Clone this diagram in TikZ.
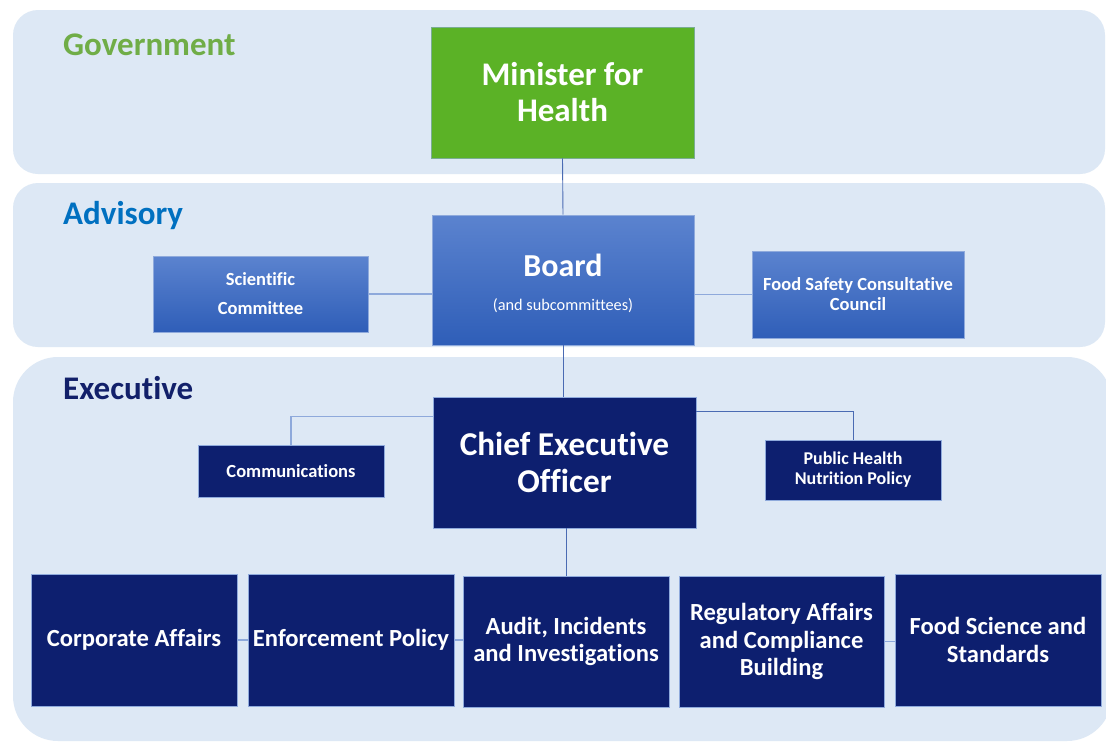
\documentclass[tikz,border=0pt]{standalone}
\usepackage{fontspec}
\setmainfont{Carlito}[Ligatures={NoCommon}]
\begin{document}
\begin{tikzpicture}[x=1pt,y=-1pt]
\definecolor{bandc}{HTML}{DDE8F5}
\definecolor{govgreen}{HTML}{70AD47}
\definecolor{advblue}{HTML}{0070C0}
\definecolor{exnavy}{HTML}{12206A}
\definecolor{mingreen}{HTML}{5BB226}
\definecolor{navy}{HTML}{0D1F6F}
\definecolor{gtop}{HTML}{5B83CF}
\definecolor{gbot}{HTML}{2F5EB8}
\definecolor{edgec}{HTML}{8FAADC}
\definecolor{linec}{HTML}{4A6BB3}
\definecolor{linel}{HTML}{8EA9DB}
\tikzset{
  band/.style={fill=bandc, draw=none},
  bandlabel/.style={anchor=west, inner sep=0pt, font=\bfseries\fontsize{33}{36}\selectfont},
  box/.style={rectangle, inner sep=0pt, align=center, text=white, font=\bfseries},
  gradbox/.style={box, top color=gtop, bottom color=gbot, draw=edgec, line width=0.8pt},
  navybox/.style={box, fill=navy, draw=edgec, line width=0.8pt},
  conn/.style={draw=linec, line width=0.9pt},
  connl/.style={draw=linel, line width=1.2pt},
}
\useasboundingbox (0,0) rectangle (1106,742);
\fill[white] (0,0) rectangle (1106,742);
% bands
\fill[band, rounded corners=25pt] (13,10) rectangle (1105,174);
\fill[band, rounded corners=25pt] (13,183) rectangle (1105,347);
\fill[band, rounded corners=45pt] (13,357) rectangle (1112,741);
\node[bandlabel, text=govgreen] (lgov) at (63,45) {Government};
\node[bandlabel, text=advblue] (ladv) at (63,216) {Advisory};
\node[bandlabel, text=exnavy] (lexe) at (63,388) {Executive};
% nodes
\node[box, fill=mingreen, draw=edgec!60!mingreen, line width=0.8pt, minimum width=263pt, minimum height=131pt,
  font=\bfseries\fontsize{33}{36}\selectfont] (min) at (562.5,92.5) {Minister for\\Health};
\node[gradbox, minimum width=262pt, minimum height=130pt] (board) at (563,280) {};
\node[box, font=\bfseries\fontsize{32}{36}\selectfont] (boardt) at (563,265) {Board};
\node[box, font=\fontsize{16.3}{18}\selectfont] (boards) at (563,306) {(and subcommittees)};
\node[gradbox, minimum width=215pt, minimum height=76pt, font=\bfseries\fontsize{18.5}{29}\selectfont] (sci) at (260.5,294) {Scientific\\Committee};
\node[gradbox, minimum width=212pt, minimum height=87pt, font=\bfseries\fontsize{18.5}{20}\selectfont] (fscc) at (858,294.5) {Food Safety Consultative\\Council};
\node[navybox, minimum width=263pt, minimum height=131pt, font=\bfseries\fontsize{33.3}{37}\selectfont] (ceo) at (564.5,462.5) {Chief Executive\\Officer};
\node[navybox, minimum width=186pt, minimum height=52pt, font=\bfseries\fontsize{18.5}{20}\selectfont] (comm) at (291,471) {Communications};
\node[navybox, minimum width=176pt, minimum height=60pt, font=\bfseries\fontsize{18}{20}\selectfont] (phnp) at (853,470) {Public Health\\Nutrition Policy};
\tikzset{bottom/.style={navybox, minimum width=206pt, minimum height=132pt, font=\bfseries\fontsize{24.6}{27.5}\selectfont}}
\node[bottom] (corp) at (134,640) {Corporate Affairs};
\node[bottom] (enf) at (351,640) {Enforcement Policy};
\node[bottom, minimum height=131pt] (audit) at (566,641.5) {Audit, Incidents\\and Investigations};
\node[bottom, minimum width=205pt, minimum height=131pt] (reg) at (781.5,641.5) {Regulatory Affairs\\and Compliance\\Building};
\node[bottom] (food) at (998,640) {Food Science and\\Standards};
% connectors
\draw[conn] (min.south) -- (board.north);
\draw[conn] (board.south) -- (ceo.north -| board.south);
\draw[connl] (sci.east) -- (sci.east -| board.west);
\draw[connl] (fscc.west -| board.east) -- (fscc.west);
\draw[connl] (comm.north) |- ([yshift=-20pt]ceo.north west);
\draw[conn] ([yshift=-15pt]ceo.north east) -| (phnp.north);
\draw[conn] (ceo.south -| audit.north) -- (audit.north);
\draw[connl] (corp.east) -- (enf.west);
\draw[connl] (enf.east) -- (enf.east -| audit.west);
\draw[connl] (reg.west |- audit.east) -- (reg.west);
\draw[connl] (reg.east) -- (reg.east -| food.west);
\end{tikzpicture}
\end{document}
